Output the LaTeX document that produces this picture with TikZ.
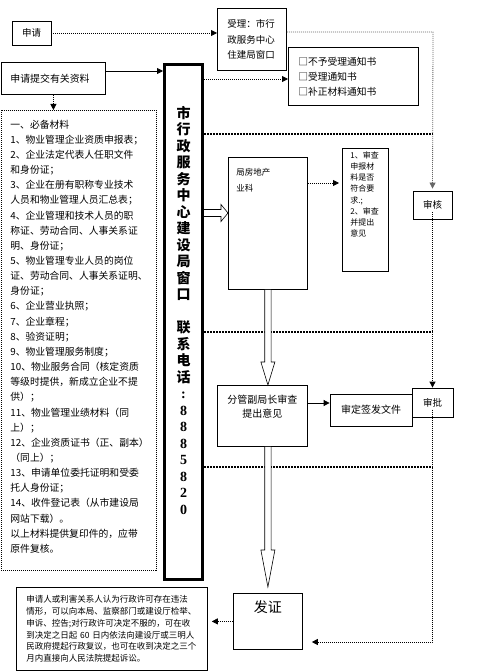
\documentclass[tikz,border=0pt]{standalone}
\usepackage{fontspec}
\setmainfont{Noto Sans CJK SC}
\newfontfamily\numfont{Liberation Serif}
\usetikzlibrary{arrows.meta,calc}

\begin{document}
\begin{tikzpicture}[x=1pt,y=-1pt,line width=0.8pt,
  box/.style={draw,inner sep=0pt,align=center},
  tl/.style={draw,anchor=north west,align=left},
  fine/.style={dash pattern=on 1pt off 1pt,-{Triangle[length=6pt,width=6pt]}},
  sepline/.style={line width=1.4pt,dash pattern=on 1.5pt off 1.5pt},
  pf/.style={-{Triangle[length=6pt,width=6pt]}},
  hollow/.style={draw,fill=white,line width=0.6pt}]
  \useasboundingbox (0,0) rectangle (476,671);

  % left column
  \node[box,minimum width=39pt,minimum height=24pt,
        font=\fontsize{9.5}{12}\selectfont] (shenqing) at (31.5,33) {申请};
  \node[tl,text width=86pt,inner xsep=9pt,minimum height=32pt,
        font=\fontsize{9.9}{12}\selectfont] (tijiao) at (1,62) {申请提交有关资料};
  \node[tl,dash pattern=on 1pt off 1pt,inner xsep=9pt,inner ysep=9.5pt,
        font=\fontsize{9.8}{15.15}\selectfont] (cailiao) at (1,110)
    {\parbox[t][441pt][t]{137pt}{一、必备材料\\
     1、物业管理企业资质申报表；\\
     2、企业法定代表人任职文件\\
     和身份证；\\
     3、企业在册有职称专业技术\\
     人员和物业管理人员汇总表；\\
     4、企业管理和技术人员的职\\
     称证、劳动合同、人事关系证\\
     明、身份证；\\
     5、物业管理专业人员的岗位\\
     证、劳动合同、人事关系证明、\\
     身份证；\\
     6、企业营业执照；\\
     7、企业章程；\\
     8、验资证明；\\
     9、物业管理服务制度；\\
     10、物业服务合同（核定资质\\
     等级时提供，新成立企业不提\\
     供）；\\
     11、物业管理业绩材料（同\\
     上）；\\
     12、企业资质证书（正、副本）\\
     （同上）；\\
     13、申请单位委托证明和受委\\
     托人身份证；\\
     14、收件登记表（从市建设局\\
     网站下载）。\\
     以上材料提供复印件的，应带\\
     原件复核。}};
  \node[tl,text width=171pt,inner xsep=10pt,minimum height=83pt,
        font=\fontsize{8.5}{11.8}\selectfont] (shensu) at (16,587)
    {申请人或利害关系人认为行政许可存在违法\\
     情形，可以向本局、监察部门或建设厅检举、\\
     申诉、控告;对行政许可决定不服的，可在收\\
     到决定之日起~60~日内依法向建设厅或三明人\\
     民政府提起行政复议，也可在收到决定之三个\\
     月内直接向人民法院提起诉讼。};

  % window
  \node[tl,line width=3pt,inner xsep=0pt,inner ysep=41.5pt,
        font=\fontsize{14}{16.5}\selectfont\bfseries] (win) at (163,63)
    {\parbox[t][432pt][t]{38pt}{\centering
     市\\行\\政\\服\\务\\中\\心\\建\\设\\局\\窗\\口\\[16.5pt]
     联\\系\\电\\话\\{\numfont :}\\{\numfont 8}\\{\numfont 8}\\{\numfont 8}\\
     {\numfont 5}\\{\numfont 8}\\{\numfont 2}\\{\numfont 0}}};

  % right part
  \node[tl,text width=49pt,inner xsep=10pt,minimum height=62pt,
        font=\fontsize{9.5}{15.5}\selectfont] (shouli) at (217,8)
    {受理：市行\\政服务中心\\住建局窗口};
  \node[tl,text width=110pt,inner xsep=10pt,minimum height=58pt,
        font=\fontsize{9.75}{15}\selectfont] (tongzhi) at (288,47)
    {□不予受理通知书\\□受理通知书\\□补正材料通知书};
  \node[tl,inner xsep=8pt,inner ysep=11pt,
        font=\fontsize{8.5}{16}\selectfont] (fang) at (228,157)
    {\parbox[t][110pt][t]{63pt}{局房地产\\业科}};
  \node[tl,inner xsep=8pt,inner ysep=3.5pt,
        font=\fontsize{8}{11.1}\selectfont] (shencha) at (342,148)
    {\parbox[t][116pt][t]{30pt}{1、审查\\申报材\\料是否\\符合要\\求.;\\2、审查\\并提出\\意见}};
  \node[box,minimum width=39pt,minimum height=28pt,
        font=\fontsize{9.5}{12}\selectfont] (shenhe) at (432.5,205) {审核};
  \node[tl,inner xsep=0pt,inner ysep=9.5pt,
        font=\fontsize{10}{14}\selectfont] (fenguan) at (217,385)
    {\parbox[t][42pt][t]{90pt}{\centering 分管副局长审查\\提出意见}};
  \node[box,minimum width=82pt,minimum height=32pt,
        font=\fontsize{10}{12}\selectfont] (shending) at (371,410) {审定签发文件};
  \node[box,minimum width=41pt,minimum height=29pt,
        font=\fontsize{9.5}{12}\selectfont] (shenpi) at (432.5,402.5) {审批};
  \node[tl,inner xsep=0pt,inner ysep=7.7pt,
        font=\fontsize{14}{16}\selectfont] (fazheng) at (233,593)
    {\parbox[t][40.6pt][t]{69pt}{\centering 发证}};

  \coordinate (tr) at (433,32);
  \coordinate (br) at (433,642);
  \coordinate (subm) at (0,71);
  \coordinate (notice) at (0,79);
  \coordinate (ha) at (0,213);
  \coordinate (review) at (0,183);
  \coordinate (sign) at (0,403);
  \coordinate (s1) at (433,134);
  \coordinate (s2) at (433,332);
  \coordinate (s3) at (433,467);

  \draw[fine] (shenqing) -- (shouli.west |- shenqing);
  \draw[fine,draw=black!60,shorten >=2pt] (shouli.east |- tr) -- (tr) -- (shenhe.north);
  \draw[fine] ([yshift=-7pt]shenhe.center) -- (shenpi.north);
  \draw[fine,shorten >=9pt] ([yshift=-7pt]shenpi.center) |- (fazheng.east |- br);
  \draw[pf] (tijiao.east |- subm) -- (win.west |- subm);
  \draw[fine] (tijiao.south) -- (tijiao.south |- cailiao.north);
  \draw[fine] (win.east |- notice) -- (tongzhi.west |- notice);
  \draw[fine,shorten >=3pt] (fang.east |- review) -- (shencha.west |- review);
  \draw[pf] (fenguan.east |- sign) -- (shending.west |- sign);
  \draw[fine,shorten >=4pt] (fazheng.west) -- (shensu.east |- fazheng.west);
  \draw[sepline] (win.east |- s1) -- (s1);
  \draw[sepline] (win.east |- s2) -- (s2);
  \draw[sepline] (win.east |- s3) -- (s3);

  % hollow arrows
  \draw[hollow] let \p1=(win.east |- ha), \p2=(fang.west |- ha) in
    (\x1,\y1+3.5pt) -- (\x2-7pt,\y1+3.5pt) -- (\x2-7pt,\y1+8.5pt) -- (\x2,\y1)
    -- (\x2-7pt,\y1-8.5pt) -- (\x2-7pt,\y1-3.5pt) -- (\x1,\y1-3.5pt);
  \draw[hollow] let \p1=(fang.south), \p2=(fenguan.north) in
    (\x1-3.2pt,\y1) -- (\x1-3.2pt,\y2+23pt) -- (\x1-7pt,\y2+23pt) -- (\x1,\y2)
    -- (\x1+7pt,\y2+23pt) -- (\x1+3.2pt,\y2+23pt) -- (\x1+3.2pt,\y1);
  \draw[hollow] let \p1=(fang.south |- fenguan.south), \p2=(fazheng.north) in
    (\x1-3.2pt,\y1) -- (\x1-3.2pt,\y2+43pt) -- (\x1-7pt,\y2+43pt) -- (\x1,\y2+6pt)
    -- (\x1+7pt,\y2+43pt) -- (\x1+3.2pt,\y2+43pt) -- (\x1+3.2pt,\y1);
\end{tikzpicture}
\end{document}
